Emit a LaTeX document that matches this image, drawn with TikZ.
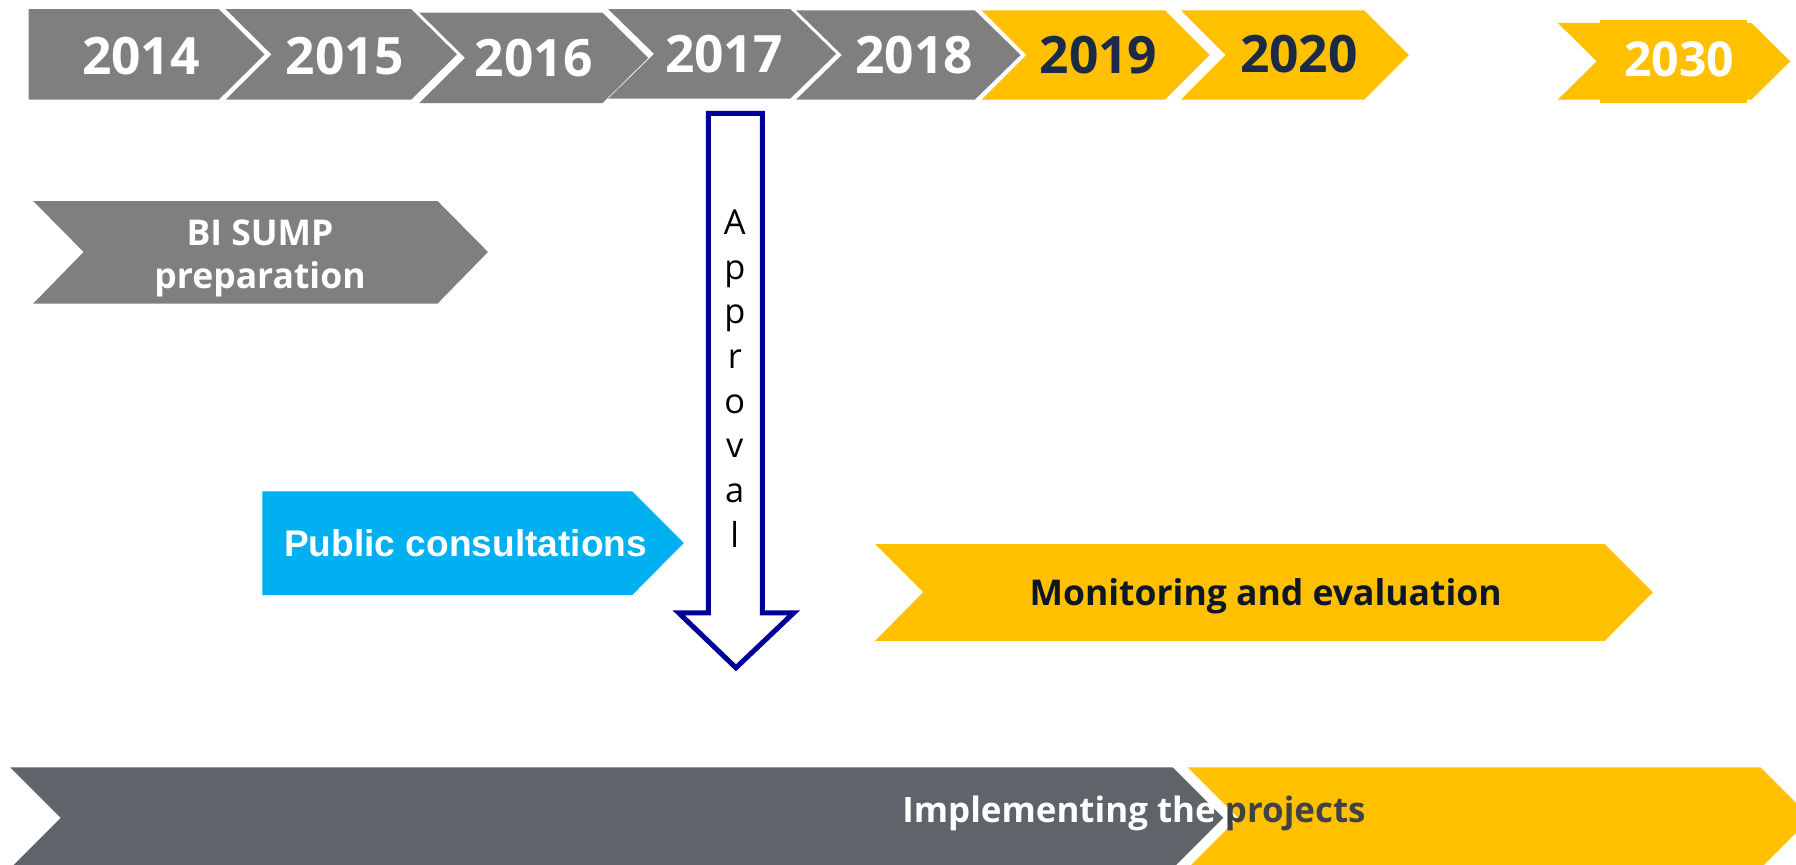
\documentclass[tikz,border=0pt]{standalone}
\usepackage{fontspec}
\setmainfont{Open Sans}
\newfontfamily\arialf{Liberation Sans}
\definecolor{greyc}{HTML}{7F7F7F}
\definecolor{yellowc}{HTML}{FFC000}
\definecolor{bluec}{HTML}{00B0F0}
\definecolor{darkbar}{HTML}{5F636A}
\definecolor{navyt}{HTML}{1B2A47}
\definecolor{montext}{HTML}{0E1726}
\definecolor{projt}{HTML}{404248}
\definecolor{arrowc}{HTML}{000099}
\begin{document}
\begin{tikzpicture}[x=1pt,y=-1pt,
  yeartxt/.style={font=\fontsize{45}{54}\selectfont\bfseries, inner sep=0pt, anchor=base},
  boxtxt/.style={font=\fontsize{31}{38}\selectfont\bfseries, inner sep=0pt},
  ]
\useasboundingbox (0,0) rectangle (1568,755);
\fill[white] (0,0) rectangle (1568,755);
\begin{scope}
\clip (0,0) rectangle (1568,755);
% ---- year chevrons ----
\fill[greyc] (25,8) -- (191,8) -- (231,47.5) -- (191,87) -- (25,87) -- cycle;
\fill[greyc] (197,8) -- (359,8) -- (399,47.5) -- (359,87) -- (197,87) -- (237,47.5) -- cycle;
\fill[greyc] (366,11) -- (526,11) -- (566,50.5) -- (526,90) -- (366,90) -- (406,50.5) -- cycle;
\fill[greyc] (531,8) -- (690,8) -- (730,47) -- (690,86) -- (531,86) -- (571,47) -- cycle;
\fill[greyc] (695,9) -- (851,9) -- (891,48) -- (851,87) -- (695,87) -- (735,48) -- cycle;
\fill[yellowc] (857,9) -- (1017,9) -- (1056,48) -- (1017,87) -- (857,87) -- (896,48) -- cycle;
\fill[yellowc] (1031,9) -- (1191,9) -- (1230,48) -- (1191,87) -- (1031,87) -- (1070,48) -- cycle;
\fill[yellowc] (1360,20) -- (1529,20) -- (1563,53.5) -- (1529,87) -- (1360,87) -- (1394,53.5) -- cycle;
\fill[yellowc] (1397,17.5) rectangle (1525,90);
\node[yeartxt, white] (y2014) at (123,65) {2014};
\node[yeartxt, white] (y2015) at (301,65) {2015};
\node[yeartxt, white] (y2016) at (466,67) {2016};
\node[yeartxt, white] (y2017) at (632,63) {2017};
\node[yeartxt, white] (y2018) at (798,64) {2018};
\node[yeartxt, navyt] (y2019) at (959,64) {2019};
\node[yeartxt, navyt] (y2020) at (1134,63) {2020};
\node[yeartxt, white, font=\fontsize{42}{50}\selectfont\bfseries] (y2030) at (1466,66.5) {2030};
% ---- BI SUMP preparation ----
\fill[greyc] (29,175.5) -- (382,175.5) -- (426,220) -- (382,265) -- (29,265) -- (73,220) -- cycle;
\node[boxtxt, white, align=center, anchor=north] (bisump) at (227,191.5) {BI SUMP\\preparation};
% ---- Public consultations ----
\fill[bluec] (229,429) -- (552,429) -- (597,474) -- (552,519.5) -- (229,519.5) -- cycle;
\node[font=\arialf\fontsize{32.4}{38}\selectfont\bfseries, white, inner sep=0pt, anchor=base] (pubcons) at (406.5,485.5) {Public consultations};
% ---- Approval arrow ----
\draw[arrowc, line width=4.4, fill=white, line join=miter]
  (618.5,99) -- (665.5,99) -- (665.5,535) -- (693,535) -- (642.5,583) -- (592.5,535) -- (618.5,535) -- cycle;
\node[font=\fontsize{30}{39}\selectfont, black, align=center, inner sep=0pt, anchor=north] (approval) at (641.5,183) {A\\p\\p\\r\\o\\v\\a\\l};
% ---- Monitoring and evaluation ----
\fill[yellowc] (764,475) -- (1401,475) -- (1443,517) -- (1401,559.5) -- (764,559.5) -- (806,517) -- cycle;
\node[boxtxt, montext, anchor=base] (monit) at (1105,528.5) {Monitoring and evaluation};
% ---- Implementing the projects ----
\fill[darkbar] (9,670) -- (1024,670) -- (1068,714) -- (1024,758) -- (9,758) -- (53,714) -- cycle;
\fill[yellowc] (1037,670) -- (1537,670) -- (1581,714) -- (1537,758) -- (1037,758) -- (1081,714) -- cycle;
\node[font=\fontsize{30.5}{36}\selectfont\bfseries, inner sep=0pt, anchor=base] (implem) at (990,718.5) {\textcolor{white}{Implementing the} \textcolor{projt}{projects}};
\end{scope}
\end{tikzpicture}
\end{document}
